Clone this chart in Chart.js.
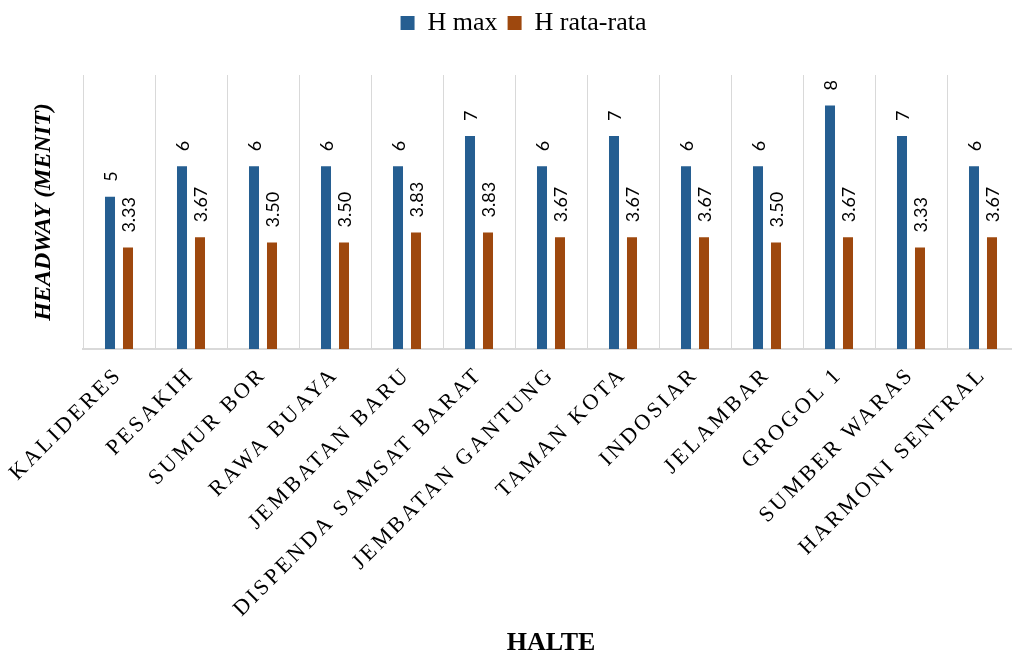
<!DOCTYPE html>
<html>
<head>
<meta charset="utf-8">
<script src="https://cdn.jsdelivr.net/npm/chart.js@4.4.0/dist/chart.umd.min.js"></script>
<style>
  html, body { margin: 0; padding: 0; background: #fff; overflow: hidden; }
  #wrap { width: 1020px; height: 656px; }
</style>
</head>
<body>
<div id="wrap"><canvas id="grafikHeadway"></canvas></div>
<script>
const halte = ['KALIDERES', 'PESAKIH', 'SUMUR BOR', 'RAWA BUAYA', 'JEMBATAN BARU', 'DISPENDA SAMSAT BARAT',
  'JEMBATAN GANTUNG', 'TAMAN KOTA', 'INDOSIAR', 'JELAMBAR', 'GROGOL 1', 'SUMBER WARAS', 'HARMONI SENTRAL'];
const hMax = [5, 6, 6, 6, 6, 7, 6, 7, 6, 6, 8, 7, 6];
const hRata = [3.33, 3.67, 3.50, 3.50, 3.83, 3.83, 3.67, 3.67, 3.67, 3.50, 3.67, 3.33, 3.67];

// angka di atas batang, diputar tegak
const labelNilai = {
  id: 'labelNilai',
  afterDatasetsDraw(chart) {
    const ctx = chart.ctx;
    ctx.save();
    ctx.font = '18px Lato';
    ctx.fillStyle = '#000';
    ctx.textAlign = 'left';
    ctx.textBaseline = 'middle';
    chart.data.datasets.forEach((ds, i) => {
      chart.getDatasetMeta(i).data.forEach((bar, j) => {
        const teks = i === 0 ? String(ds.data[j]) : ds.data[j].toFixed(2);
        ctx.save();
        ctx.translate(bar.x + 1, bar.y - 15);
        ctx.rotate(-Math.PI / 2);
        ctx.fillText(teks, 0, 0);
        ctx.restore();
      });
    });
    ctx.restore();
  }
};

// nama halte ditulis renggang
const spasiHuruf = {
  id: 'spasiHuruf',
  afterUpdate(chart) {
    const sx = chart.scales.x;
    if (sx._spasi) return;
    const asli = sx.drawLabels;
    sx.drawLabels = function (area) {
      this.ctx.save();
      this.ctx.letterSpacing = '3px';
      asli.call(this, area);
      this.ctx.restore();
    };
    sx._spasi = true;
  }
};

const ctx = document.getElementById('grafikHeadway').getContext('2d');
new Chart(ctx, {
  type: 'bar',
  data: {
    labels: halte,
    datasets: [
      { label: 'H max', data: hMax, backgroundColor: '#255E91', borderWidth: 0 },
      { label: 'H rata-rata', data: hRata, backgroundColor: '#9E480E', borderWidth: 0 }
    ]
  },
  options: {
    responsive: true,
    maintainAspectRatio: false,
    animation: false,
    layout: { padding: { left: 28, right: 1, top: 0, bottom: 0 } },
    datasets: { bar: { categoryPercentage: 0.5, barPercentage: 0.556 } },
    plugins: {
      legend: {
        position: 'top',
        labels: {
          boxWidth: 14, boxHeight: 14, padding: 10, color: '#000',
          font: { family: 'Liberation Serif', size: 26 }
        }
      },
      // jarak kosong antara legenda dan area grafik
      title: { display: true, text: '', weight: 500, padding: { top: 28, bottom: 0 }, font: { size: 1, lineHeight: 1 } },
      tooltip: { enabled: false }
    },
    scales: {
      x: {
        grid: { offset: true, color: '#D9D9D9', lineWidth: 1, drawTicks: false },
        border: { color: '#D9D9D9', width: 2 },
        ticks: {
          autoSkip: false, minRotation: 45, maxRotation: 45, padding: 13, color: '#000',
          font: { family: 'Liberation Serif', size: 22 }
        },
        title: {
          display: true, text: 'HALTE', color: '#000', padding: 0,
          font: { family: 'Liberation Serif', size: 26, weight: 'bold', lineHeight: 1 }
        },
        afterFit(s) { s.height = 307; }
      },
      y: {
        min: 0, max: 9,
        ticks: { display: false },
        grid: { display: false },
        border: { display: false },
        title: {
          display: true, text: 'HEADWAY (MENIT)', color: '#000', padding: { top: 1, bottom: 0 },
          font: { family: 'Liberation Serif', size: 24, weight: 'bold', style: 'italic' }
        },
        afterFit(s) { s.width = 55; }
      }
    }
  },
  plugins: [labelNilai, spasiHuruf]
});
</script>
</body>
</html>
